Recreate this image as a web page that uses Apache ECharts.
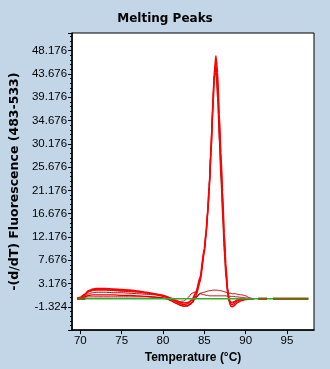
<!DOCTYPE html>
<html>
<head>
<meta charset="utf-8">
<script src="https://cdn.jsdelivr.net/npm/echarts@6/dist/echarts.min.js"></script>
<style>
html,body{margin:0;padding:0;background:#C3D6E8;}
#chart{width:330px;height:369px;}
</style>
</head>
<body>
<div id="chart"></div>
<script>
// Temperature samples (°C)
const temps = [69.6, 70, 70.5, 71, 71.5, 72, 73, 74, 75, 76, 77, 78, 79, 80, 80.5, 81, 81.5, 82, 82.5, 83, 83.5, 84, 84.5, 85, 85.2, 85.4, 85.6, 85.8, 86, 86.2, 86.4, 86.6, 86.8, 87, 87.2, 87.4, 87.6, 87.8, 88, 88.2, 88.4, 88.6, 88.8, 89, 89.5, 90, 90.5, 91, 92, 93, 94, 95, 96, 97, 97.6];

// -(d/dT) fluorescence curves
const peakA = [0.3,0.5,1.1,1.8,2.1,2.2,2.2,2.1,2.0,1.9, 1.7,1.5,1.2,0.9,0.6,0.3,-0.1,-0.4,-0.6,-0.5, 0.0,1.5,4.5,10.0,13.0,17.0,22.0,28.5,36.0,43.5, 47.2,44.0,36.0,28.5,21.0,13.0,7.0,2.5,-0.3,-1.2, -1.3,-1.1,-0.8,-0.5,-0.1,0.1,0.2,0.2];
const peakB = [0.3,0.4,0.9,1.6,1.9,2.0,2.0,1.9,1.8,1.7, 1.6,1.4,1.1,0.8,0.5,0.1,-0.3,-0.7,-0.9,-0.7, -0.1,1.2,4.0,9.5,12.5,16.5,22.0,29.0,37.0,44.0, 45.8,41.0,33.0,25.5,18.5,11.0,5.5,1.8,-0.2,-0.8, -0.9,-0.7,-0.4,-0.2,0.1,0.2,0.2,0.2];
const peakC = [0.3,0.3,0.6,0.9,1.0,1.0,1.0,1.0,0.9,0.9, 0.8,0.7,0.6,0.4,0.2,-0.2,-0.6,-1.0,-1.2,-1.1, -0.5,0.8,3.5,9.0,12.0,16.0,21.0,27.5,35.0,42.5, 45.1,42.0,35.0,27.5,20.0,12.5,6.5,2.2,0.2,-0.5, -0.6,-0.4,-0.2,0.0,0.2,0.2,0.2,0.2];
const peakD = [0.3,0.4,1.0,1.6,1.8,1.9,1.9,1.8,1.7,1.6, 1.5,1.3,1.1,0.8,0.6,0.3,0.0,-0.3,-0.2,0.4, 1.3,1.6,4.2,9.8,13.0,17.5,23.0,30.0,37.5,43.3, 43.8,39.0,31.0,23.5,16.5,9.5,4.5,1.2,-0.2,-0.4, -0.4,-0.3,-0.1,0.0,0.2,0.2,0.2,0.2];
const lowE  = [0.3,0.4,0.8,1.2,1.4,1.5,1.5,1.4,1.4,1.3, 1.2,1.1,1.0,0.7,0.5,0.2,-0.2,-0.6,-0.9,-1.0, -0.5,0.6,1.3,1.5,1.6,1.7,1.8,1.8,1.9,1.9, 1.9,1.9,1.8,1.8,1.7,1.6,1.5,1.4,1.3,1.3, 1.2,1.2,1.2,1.1,1.0,0.8,0.4,0.2];
const lowF  = [0.3,0.3,0.5,0.6,0.6,0.6,0.6,0.6,0.6,0.6, 0.6,0.6,0.5,0.4,0.2,-0.1,-0.5,-0.9,-1.2,-1.2, -0.7,0.4,1.2,1.0,0.9,0.9,0.8,0.8,0.8,0.8, 0.8,0.8,0.8,0.8,0.8,0.8,0.8,0.7,0.7,0.7, 0.7,0.7,0.6,0.6,0.5,0.4,0.3,0.2];
const baseline = temps.map(() => 0.25);
// olive baseline pieces (null = gap)
const oliveTemps = [69.6, 70.6, null, 91.5, 92.6, null, 93.3, 97.6];
const oliveVals  = [0.25, 0.25, null, 0.25, 0.25, null, 0.25, 0.25];

// axis ticks
const xTicks = [70, 75, 80, 85, 90, 95];
const yTickStart = -1.324;
const yTickStep = 4.5;

function pairs(xs, ys) {
  const out = [];
  for (let i = 0; i < ys.length; i++) {
    if (xs[i] == null || ys[i] == null) out.push([xs[i] == null ? NaN : xs[i], '-']);
    else out.push([xs[i], ys[i]]);
  }
  return out;
}

const chart = echarts.init(document.getElementById('chart'), null, {renderer: 'canvas'});

function line(name, ys, color, width, xs) {
  return {
    name, type: 'line', data: pairs(xs || temps, ys),
    showSymbol: false, symbol: 'none', smooth: 0.2, smoothMonotone: 'x',
    connectNulls: false, animation: false,
    lineStyle: {color, width}, z: 2
  };
}

chart.setOption({
  backgroundColor: '#C3D6E8',
  animation: false,
  title: {
    text: 'Melting Peaks', left: 'center', top: 8,
    textStyle: {fontFamily: 'DejaVu Sans', fontWeight: 'bold', fontSize: 12, color: '#000'}
  },
  grid: {left: 63, right: 16, top: 33, bottom: 35.5, show: true, backgroundColor: '#fff', borderColor: '#000', borderWidth: 1},
  xAxis: {
    type: 'value', min: 69, max: 98.27,
    name: 'Temperature (°C)', nameLocation: 'middle', nameGap: 17,
    nameTextStyle: {fontFamily: 'Liberation Sans', fontWeight: 'bold', fontSize: 12, color: '#000'},
    axisLine: {show: true, onZero: false, lineStyle: {color: '#000', width: 1.5}},
    axisTick: {show: true, inside: false, length: 4, lineStyle: {color: '#000'}, customValues: xTicks},
    axisLabel: {show: true, margin: 5, fontFamily: 'Liberation Sans', fontSize: 11.5, color: '#000', customValues: xTicks},
    splitLine: {show: false}
  },
  yAxis: {
    type: 'value', min: yTickStart - yTickStep, max: 51.6, interval: yTickStep,
    name: '-(d/dT) Fluorescence (483-533)', nameLocation: 'middle', nameGap: 37, nameRotate: 90,
    nameTextStyle: {fontFamily: 'DejaVu Sans', fontWeight: 'bold', fontSize: 12.5, color: '#000'},
    axisLine: {show: true, onZero: false, lineStyle: {color: '#000', width: 1.5}},
    axisTick: {show: true, inside: false, length: 4, lineStyle: {color: '#000'}},
    minorTick: {show: true, splitNumber: 5, length: 2, lineStyle: {color: '#000'}},
    axisLabel: {
      show: true, margin: 5, fontFamily: 'Liberation Sans', fontSize: 11.5, color: '#000',
      showMinLabel: false, showMaxLabel: false,
      formatter: v => v.toFixed(3)
    },
    splitLine: {show: false}
  },
  series: [
    line('F', lowF, '#C00000', 1),
    line('E', lowE, '#C00000', 1),
    line('D', peakD, '#C80000', 1),
    line('C', peakC, '#D80000', 1.2),
    line('B', peakB, '#FF0000', 1.2),
    line('A', peakA, '#FF0000', 1.6),
    line('green', baseline, '#2DB02D', 1.5),
    line('olive', oliveVals, '#7A6410', 2.5, oliveTemps)
  ]
});
</script>
</body>
</html>
